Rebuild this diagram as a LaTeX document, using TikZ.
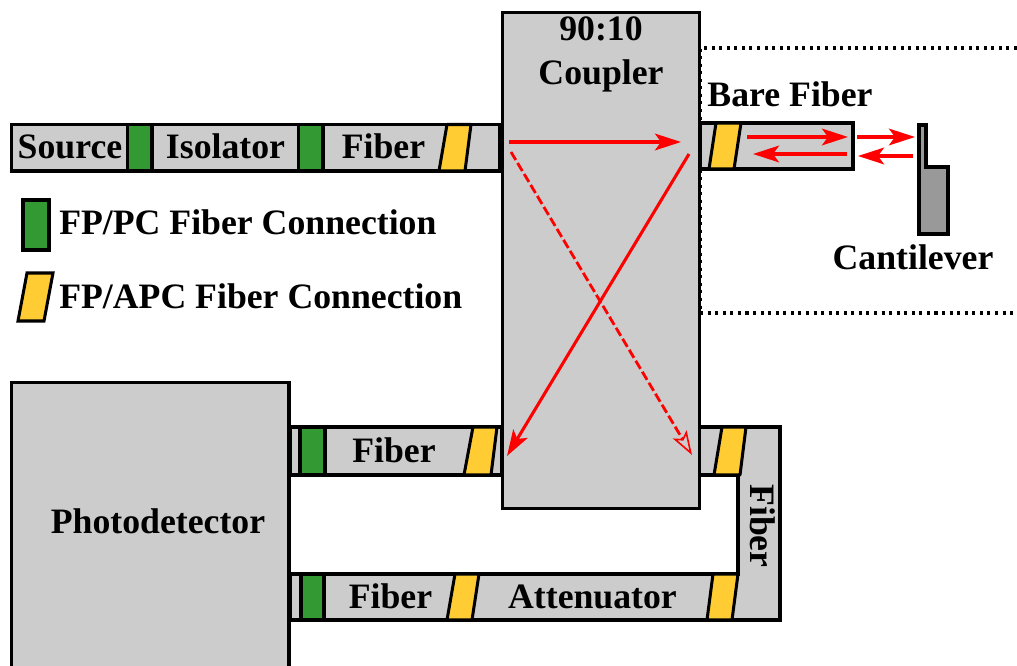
\documentclass[tikz,border=0pt]{standalone}
\usepackage{fontspec}
\setmainfont{Liberation Serif}[BoldFont={Liberation Serif Bold}]
\usetikzlibrary{arrows.meta}
\definecolor{pgray}{HTML}{CCCCCC}
\definecolor{cgray}{HTML}{999999}
\definecolor{pgreen}{HTML}{339933}
\definecolor{pyellow}{HTML}{FFCC33}
\tikzset{
  part/.style={draw=black,fill=pgray,line width=2.27pt,line join=miter},
  fpc/.style={draw=black,fill=pgreen,line width=2.27pt},
  apc/.style={draw=black,fill=pyellow,line width=2.27pt,line join=bevel},
  lab/.style={font=\fontsize{26.8}{29}\selectfont\bfseries,inner sep=0pt,text=black,anchor=base},
  ray/.style={draw=red,line width=2.3pt,-{Stealth[length=19.5pt,width=12.5pt,inset=4.5pt]}},
  dray/.style={draw=red,line width=2.1pt,dash pattern=on 7pt off 2.6pt,-{Stealth[length=18pt,width=12pt,inset=4pt,open,line width=1.2pt]}},
  dots/.style={draw=black,line width=2.27pt,dash pattern=on 2.27pt off 3.4pt}
}
\begin{document}
\begin{tikzpicture}[x=0.75pt,y=-0.75pt]
\useasboundingbox (0,0) rectangle (1017,666);
% dotted enclosure
\coordinate (dA) at (1017,48); \coordinate (dB) at (700,48);
\coordinate (dC) at (700,313); \coordinate (dD) at (1017,313);
\draw[dots] (dA) -- (dB) -- (dC) -- (dD);
% top strip
\path[part] (11.5,124.5) rectangle (500,171);
\path[fpc] (127.5,124.5) rectangle (152,171);
\path[fpc] (298.5,124.5) rectangle (323,171);
\path[apc] (447,124.5) -- (471,124.5) -- (465,171) -- (439,171) -- cycle;
% bare fiber
\path[part] (700,123) rectangle (853,169);
\path[apc] (716,123) -- (741,123) -- (734,169) -- (709,169) -- cycle;
% photodetector
\path[part] (11.5,382.5) -- (289,382.5) -- (289,670) -- (11.5,670) -- cycle;
% upper left fiber
\path[part] (290,427) rectangle (502,475);
\path[fpc] (300,427) rectangle (325,475);
\path[apc] (473,427) -- (497,427) -- (491,475) -- (464,475) -- cycle;
% return loop
\path[part] (696,427) -- (780,427) -- (780,620) -- (290,620) -- (290,574) -- (738,574) -- (738,475) -- (696,475) -- cycle;
\path[apc] (722,427) -- (746,427) -- (740,475) -- (714,475) -- cycle;
\path[fpc] (301,574) rectangle (324,620);
\path[apc] (455,574) -- (479,574) -- (472,620) -- (447,620) -- cycle;
\path[apc] (713,574) -- (738,574) -- (732,620) -- (707,620) -- cycle;
% coupler
\node[part,line width=2.6pt,minimum width=148pt,minimum height=372pt,inner sep=0pt,anchor=north west] (coupler) at (500.5,11) {};
% cantilever
\path[draw=black,fill=cgray,line width=2.27pt] (919,125) -- (926,125) -- (926,167) -- (948,167) -- (948,234) -- (919,234) -- cycle;
% legend
\path[fpc] (23,200) rectangle (49,250);
\path[apc,line join=miter] (27,273) -- (53,273) -- (44,321) -- (18,321) -- cycle;
% rays
\coordinate (r1a) at (509,142); \coordinate (r1b) at (681,142);
\coordinate (r2a) at (511,152); \coordinate (r2b) at (692,455);
\coordinate (r3a) at (689,154); \coordinate (r3b) at (507,456);
\coordinate (r4a) at (747,137); \coordinate (r4b) at (848,137);
\coordinate (r5a) at (847,154); \coordinate (r5b) at (753,154);
\coordinate (r6a) at (857,137); \coordinate (r6b) at (915,137);
\coordinate (r7a) at (913,156); \coordinate (r7b) at (858,156);
\draw[ray] (r1a) -- (r1b);
\draw[dray] (r2a) -- (r2b);
\draw[ray] (r3a) -- (r3b);
\draw[ray] (r4a) -- (r4b);
\draw[ray] (r5a) -- (r5b);
\draw[ray] (r6a) -- (r6b);
\draw[ray] (r7a) -- (r7b);
% labels
\node[lab] (tsource) at (70,158.5) {Source};
\node[lab] (tiso) at (225.5,159) {Isolator};
\node[lab] (tfib1) at (383.5,158.5) {Fiber};
\node[lab,anchor=base west] (tleg1) at (59,235) {FP/PC Fiber Connection};
\node[lab,anchor=base west] (tleg2) at (59,309) {FP/APC Fiber Connection};
\node[lab] (tcoup1) at (601,41) {90:10};
\node[lab] (tcoup2) at (601,85) {Coupler};
\node[lab] (tbare) at (790,107) {Bare Fiber};
\node[lab] (tcant) at (913,270) {Cantilever};
\node[lab] (tphoto) at (158,533) {Photodetector};
\node[lab] (tfib2) at (394,462) {Fiber};
\node[lab] (tfib3) at (390.5,608) {Fiber};
\node[lab] (tatt) at (592.5,608) {Attenuator};
\node[lab,rotate=-90] (tfib4) at (750.5,526) {Fiber};
\end{tikzpicture}
\end{document}
